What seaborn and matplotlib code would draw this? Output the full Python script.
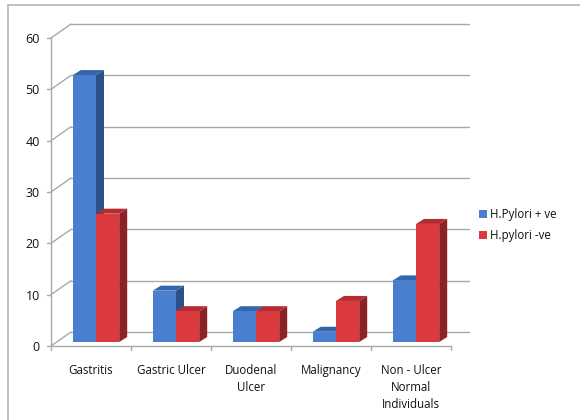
import matplotlib
matplotlib.use("Agg")
import matplotlib.pyplot as plt
import seaborn as sns
import pandas as pd
from matplotlib.patches import Polygon, Rectangle
from matplotlib.lines import Line2D

# ---- data ----
categories = ["Gastritis", "Gastric Ulcer", "Duodenal\nUlcer", "Malignancy",
              "Non - Ulcer\nNormal\nIndividuals"]
series_names = ["H.Pylori + ve", "H.pylori -ve"]
pylori_pos = [52, 10, 6, 2, 12]
pylori_neg = [25, 6, 6, 8, 23]
y_ticks = [0, 10, 20, 30, 40, 50, 60]

front_colors = ["#4a7fcf", "#da3a3e"]
side_colors = ["#2c5189", "#8d2226"]
top_colors = ["#3566ad", "#b22c30"]

df = pd.DataFrame({
    "category": categories * 2,
    "value": pylori_pos + pylori_neg,
    "series": [series_names[0]] * len(categories) + [series_names[1]] * len(categories),
})

sns.set_theme(style="white")
plt.rcParams["font.family"] = ["Open Sans", "DejaVu Sans"]

W, H, DPI = 580, 420, 100
fig = plt.figure(figsize=(W / DPI, H / DPI), dpi=DPI)

# axes placed in pixel units: front x-axis 51..451, y 0 at 346, 60 at 38
ax_l, ax_r, ax_b, ax_t = 51, 451, 346, 38
ax = fig.add_axes([ax_l / W, (H - ax_b) / H, (ax_r - ax_l) / W, (ax_b - ax_t) / H])

sns.barplot(data=df, x="category", y="value", hue="series", order=categories,
            hue_order=series_names, palette=front_colors, width=0.58,
            saturation=1, ax=ax, legend=False, linewidth=0)

ax.set_xlim(-0.5, len(categories) - 0.5)
ax.set_ylim(0, 60)

px_x = (ax_r - ax_l) / len(categories)   # pixels per category unit
px_y = (ax_b - ax_t) / 60.0              # pixels per value unit

def dx(p):
    return p / px_x

def dy(p):
    return p / px_y

# perspective offsets (pixels)
back_dx, back_dy = 20, 14      # back wall of the plot box
bar_dx, bar_dy = 5, 4          # bar front faces sit inside the floor
depth_dx, depth_dy = 8, 5      # bar depth

grid_col = "#a9a9a9"
x0, x1 = -0.5, len(categories) - 0.5

# back wall gridlines and the diagonal connectors from the front axis
for t in y_ticks:
    ax.plot([x0 + dx(back_dx), x1 + dx(back_dx) - dx(2)], [t + dy(back_dy)] * 2,
            color=grid_col, lw=1.0, clip_on=False, zorder=0.5)
    ax.plot([x0, x0 + dx(back_dx)], [t, t + dy(back_dy)],
            color=grid_col, lw=1.0, clip_on=False, zorder=0.5)

# front axis lines and ticks
ax.plot([x0, x0], [0, 60], color=grid_col, lw=1.0, clip_on=False, zorder=0.6)
ax.plot([x0, x1], [0, 0], color=grid_col, lw=1.0, clip_on=False, zorder=0.6)
for t in y_ticks:
    ax.plot([x0 - dx(4), x0], [t, t], color=grid_col, lw=1.0, clip_on=False)
for i in range(len(categories) + 1):
    xx = x0 + i
    ax.plot([xx, xx], [0, -dy(4)], color=grid_col, lw=1.0, clip_on=False)

# shift bar faces and add top / side faces for depth
bars = list(ax.patches)
for idx, bar in enumerate(bars):
    s = idx // len(categories)
    x = bar.get_x() + dx(bar_dx)
    w = bar.get_width()
    h = bar.get_height()
    y = dy(bar_dy)
    bar.set_x(x)
    bar.set_y(y)
    bar.set_zorder(3)
    ddx, ddy = dx(depth_dx), dy(depth_dy)
    top = Polygon([(x, y + h), (x + w, y + h), (x + w + ddx, y + h + ddy), (x + ddx, y + h + ddy)],
                  closed=True, facecolor=top_colors[s], edgecolor="none", zorder=2.9)
    side = Polygon([(x + w, y), (x + w + ddx, y + ddy), (x + w + ddx, y + h + ddy), (x + w, y + h)],
                   closed=True, facecolor=side_colors[s], edgecolor="none", zorder=2.9)
    ax.add_patch(top)
    ax.add_patch(side)

for s in ax.spines.values():
    s.set_visible(False)
ax.set_xlabel("")
ax.set_ylabel("")
ax.set_yticks(y_ticks)
ax.set_yticklabels([str(t) for t in y_ticks], fontsize=9, color="#111111")
ax.set_xticks(range(len(categories)))
ax.set_xticklabels(categories, fontsize=8.3, color="#111111", linespacing=1.4)
ax.tick_params(axis="both", length=0)
ax.tick_params(axis="y", pad=8)
ax.tick_params(axis="x", pad=13)
for lab in ax.get_xticklabels():
    lab.set_verticalalignment("top")

# legend
handles = [Rectangle((0, 0), 1, 1, facecolor=c, edgecolor="none") for c in front_colors]
fig.legend(handles, series_names, loc="upper left", bbox_to_anchor=(474 / W, 1 - 203 / H),
           frameon=False, fontsize=8.3, handlelength=0.7, handleheight=0.7,
           handletextpad=0.3, labelspacing=0.75, borderaxespad=0, labelcolor="#111111")

# chart border (top and left edges)
fig.add_artist(Line2D([8 / W, 1], [1 - 5 / H] * 2, transform=fig.transFigure, color="#b4b4b4", lw=1.2))
fig.add_artist(Line2D([8 / W] * 2, [0, 1 - 5 / H], transform=fig.transFigure, color="#b4b4b4", lw=1.2))

fig.savefig("out.png", dpi=DPI, facecolor="white")
